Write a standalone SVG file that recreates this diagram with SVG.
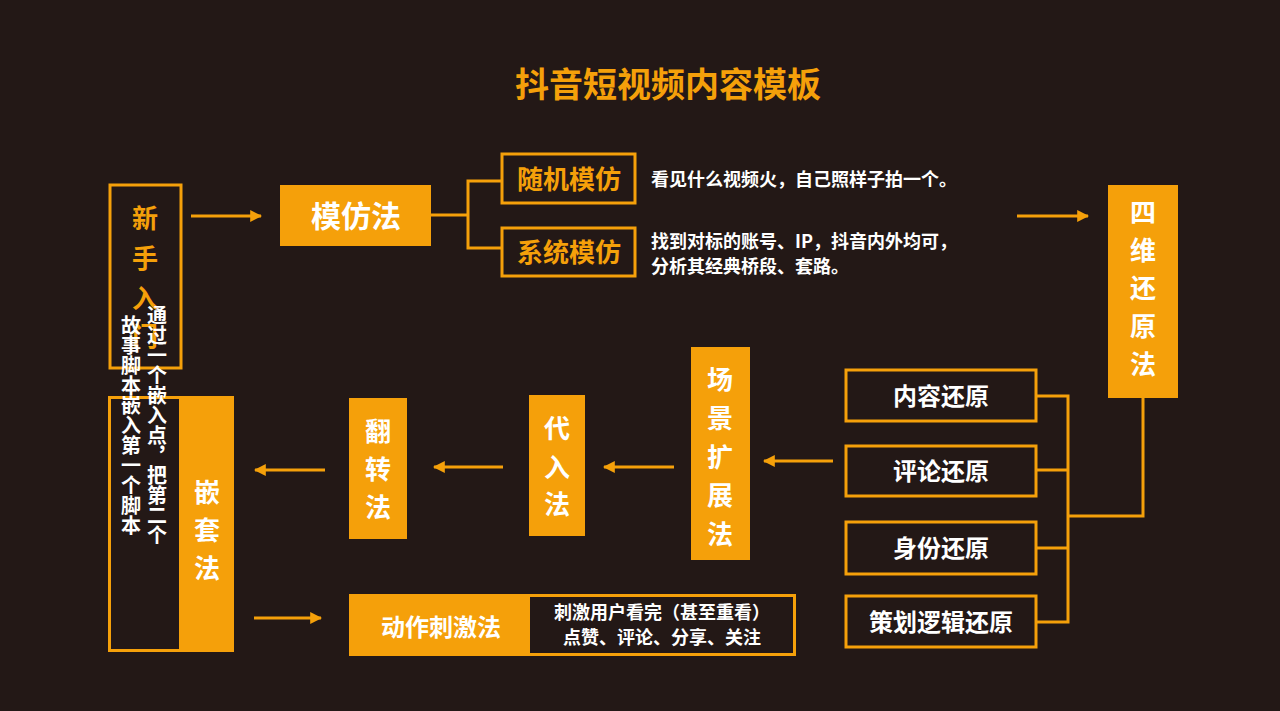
<svg xmlns="http://www.w3.org/2000/svg" width="1280" height="711" viewBox="0 0 1280 711">
<defs>
<style>
text{font-family:"Noto Sans CJK SC","Noto Sans",sans-serif;font-weight:bold;text-anchor:middle}
.o{fill:none;stroke:#F5A00A;stroke-width:3}
.f{fill:#F5A00A}
.w{fill:#FFFFFF}
.or{fill:#F5A00A}
.ln{fill:none;stroke:#F5A00A;stroke-width:3}
.vt{font-size:20px;fill:#fff;font-weight:bold}
</style>
<marker id="ah" viewBox="0 0 10 10" refX="9" refY="5" markerWidth="4" markerHeight="4" orient="auto"><path d="M0,0L10,5L0,10z" fill="#F5A00A"/></marker>
</defs>
<rect width="1280" height="711" fill="#231816"/>
<text x="668" y="97" font-size="34" class="or">抖音短视频内容模板</text>
<g id="connectors">
<path class="ln" d="M191,216H261" marker-end="url(#ah)"/>
<path class="ln" d="M431,215H468M502,181H468V248H502"/>
<path class="ln" d="M1017,216H1088" marker-end="url(#ah)"/>
<path class="ln" d="M1143,398V516H1068M1036,396H1068V622H1036M1036,470H1068M1036,548H1068"/>
<path class="ln" d="M833,461H764" marker-end="url(#ah)"/>
<path class="ln" d="M674,467H604" marker-end="url(#ah)"/>
<path class="ln" d="M503,467H434" marker-end="url(#ah)"/>
<path class="ln" d="M325,470H255" marker-end="url(#ah)"/>
<path class="ln" d="M254,618H321" marker-end="url(#ah)"/>
</g>
<g id="n-xinshou"><rect class="o" x="110" y="185" width="71" height="183"/>
<g class="or" font-size="26"><text x="145" y="228">新</text><text x="145" y="268">手</text><text x="145" y="308">入</text><text x="145" y="346">门</text></g></g>
<g id="n-mofang"><rect class="f" x="280" y="185" width="151" height="61"/><text x="356" y="227" font-size="30" class="w">模仿法</text></g>
<g id="n-suiji"><rect class="o" x="502" y="154" width="133" height="49"/><text x="569" y="189" font-size="26" class="or">随机模仿</text></g>
<g id="n-xitong"><rect class="o" x="502" y="228" width="133" height="48"/><text x="569" y="262" font-size="26" class="or">系统模仿</text></g>
<g id="t-desc" font-size="18" class="w" style="text-anchor:start">
<text x="651" y="186" style="text-anchor:start" fill="#fff">看见什么视频火，自己照样子拍一个。</text>
<text x="651" y="248" style="text-anchor:start" fill="#fff">找到对标的账号、IP，抖音内外均可，</text>
<text x="651" y="273" style="text-anchor:start" fill="#fff">分析其经典桥段、套路。</text></g>
<g id="n-siwei"><rect class="f" x="1108" y="185" width="70" height="213"/>
<g class="w" font-size="26"><text x="1143" y="222">四</text><text x="1143" y="260">维</text><text x="1143" y="298">还</text><text x="1143" y="336">原</text><text x="1143" y="374">法</text></g></g>
<g id="n-neirong"><rect class="o" x="846" y="370" width="190" height="51"/><text x="941" y="405" font-size="24" class="w">内容还原</text></g>
<g id="n-pinglun"><rect class="o" x="846" y="446" width="190" height="50"/><text x="941" y="480" font-size="24" class="w">评论还原</text></g>
<g id="n-shenfen"><rect class="o" x="846" y="522" width="190" height="52"/><text x="941" y="557" font-size="24" class="w">身份还原</text></g>
<g id="n-cehua"><rect class="o" x="846" y="596" width="190" height="51"/><text x="941" y="631" font-size="24" class="w">策划逻辑还原</text></g>
<g id="n-changjing"><rect class="f" x="691" y="347" width="59" height="213"/>
<g class="w" font-size="26"><text x="720" y="389">场</text><text x="720" y="428">景</text><text x="720" y="467">扩</text><text x="720" y="505">展</text><text x="720" y="544">法</text></g></g>
<g id="n-dairu"><rect class="f" x="529" y="395" width="56" height="141"/>
<g class="w" font-size="26"><text x="557" y="438">代</text><text x="557" y="477">入</text><text x="557" y="514">法</text></g></g>
<g id="n-fanzhuan"><rect class="f" x="349" y="398" width="58" height="141"/>
<g class="w" font-size="26"><text x="378" y="441">翻</text><text x="378" y="479">转</text><text x="378" y="517">法</text></g></g>
<g id="n-qiantao"><rect class="f" x="108" y="396" width="126" height="256"/><rect x="111" y="399" width="68" height="250" fill="#231816"/>
<g class="w" font-size="26"><text x="207" y="502">嵌</text><text x="207" y="540">套</text><text x="207" y="578">法</text></g>
<text class="vt" x="157" y="425" style="writing-mode:tb;glyph-orientation-vertical:0" writing-mode="tb">通过一个嵌入点，把第二个</text>
<text class="vt" x="131" y="425" writing-mode="tb">故事脚本嵌入第一个脚本</text></g>
<g id="n-dongzuo"><rect class="f" x="349" y="594" width="447" height="62"/><rect x="530" y="597" width="263" height="56" fill="#231816"/>
<text x="441" y="636" font-size="24" class="w">动作刺激法</text>
<text x="662" y="619" font-size="18" class="w">刺激用户看完（甚至重看）</text>
<text x="662" y="644" font-size="18" class="w">点赞、评论、分享、关注</text></g>
</svg>
